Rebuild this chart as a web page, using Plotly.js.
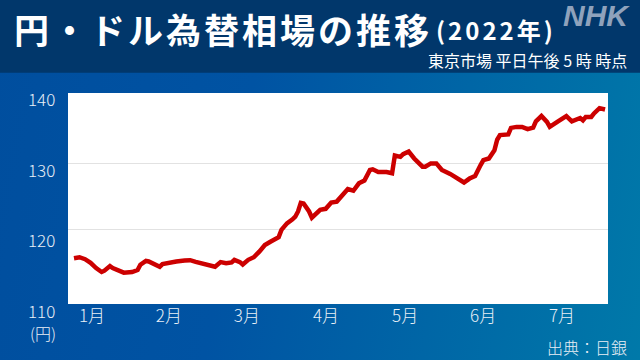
<!DOCTYPE html>
<html>
<head>
<meta charset="utf-8">
<script src="https://cdn.plot.ly/plotly-3.0.1.min.js"></script>
<style>
  html, body { margin: 0; padding: 0; }
  body { width: 640px; height: 360px; overflow: hidden;
         background: linear-gradient(100deg, #004e9e 0%, #0053a3 38%, #0079a9 100%); }
  #chart { width: 640px; height: 360px; }
</style>
</head>
<body>
<div id="chart"></div>
<script>
// ---- data ----
const dates = [
  '2022-01-04','2022-01-06','2022-01-08','2022-01-10','2022-01-12','2022-01-14','2022-01-15','2022-01-17',
  '2022-01-18','2022-01-20','2022-01-22','2022-01-25','2022-01-27','2022-01-28','2022-01-30','2022-01-31',
  '2022-02-02','2022-02-04','2022-02-05','2022-02-08','2022-02-10','2022-02-13','2022-02-15','2022-02-17',
  '2022-02-20','2022-02-23','2022-02-24','2022-02-26','2022-02-28',
  '2022-03-02','2022-03-03','2022-03-05','2022-03-06','2022-03-08','2022-03-10','2022-03-12','2022-03-14',
  '2022-03-16','2022-03-19','2022-03-20','2022-03-22','2022-03-24','2022-03-25','2022-03-26','2022-03-27',
  '2022-03-28','2022-03-30','2022-03-31',
  '2022-04-01','2022-04-03','2022-04-05','2022-04-07','2022-04-09','2022-04-10','2022-04-12','2022-04-13',
  '2022-04-15','2022-04-17','2022-04-19','2022-04-21','2022-04-22','2022-04-24','2022-04-27','2022-04-29',
  '2022-04-30',
  '2022-05-02','2022-05-03','2022-05-05','2022-05-07','2022-05-10','2022-05-11','2022-05-13','2022-05-15',
  '2022-05-17','2022-05-20','2022-05-22','2022-05-24','2022-05-25','2022-05-27','2022-05-29','2022-05-31',
  '2022-06-01','2022-06-03','2022-06-05','2022-06-06','2022-06-07','2022-06-10','2022-06-11','2022-06-13',
  '2022-06-15','2022-06-17','2022-06-19','2022-06-20','2022-06-22','2022-06-24','2022-06-25','2022-06-28',
  '2022-06-30',
  '2022-07-01','2022-07-03','2022-07-05','2022-07-06','2022-07-07','2022-07-08','2022-07-10','2022-07-11',
  '2022-07-13','2022-07-15'
];
const usdJpy = [
  115.6,115.75,115.45,114.9,114.1,113.5,113.7,114.4,
  114.1,113.8,113.4,113.5,113.8,114.6,115.2,115.1,
  114.6,114.3,114.7,115.0,115.1,115.25,115.3,115.05,
  114.7,114.3,114.3,115.0,114.85,
  114.95,115.35,115.0,114.65,115.35,115.75,116.6,117.6,
  118.1,118.8,119.9,120.9,121.5,121.9,122.7,124.0,
  123.9,122.7,121.75,
  122.2,122.95,123.1,124.05,124.2,124.7,125.55,126.1,
  125.85,126.97,127.4,129.0,129.1,128.7,128.7,128.5,
  131.2,
  131.0,131.4,131.8,130.75,129.5,129.5,130.0,130.0,
  129.0,128.4,127.9,127.5,127.1,127.7,128.1,129.75,
  130.5,130.75,132.0,133.6,134.3,134.4,135.4,135.55,
  135.55,135.2,135.45,136.4,137.2,136.3,135.55,136.4,
  137.06,
  137.2,136.4,136.7,136.9,136.55,137.06,137.06,137.6,
  138.4,138.2
];
const monthTickVals = ['2022-01-10 12:00','2022-02-07 07:00','2022-03-07 12:00','2022-04-05 02:00',
                       '2022-05-03 17:00','2022-05-31 22:00','2022-06-29 10:00'];
const monthTickText = ['1月','2月','3月','4月','5月','6月','7月'];
const yLabelVals = [140, 130, 120, 110];
const yLabelText = ['140', '130', '120', '110'];
const gridVals = [120, 130];

const titleMain = '円・ドル為替相場の推移';
const titleYear = '(2022年)';
const subtitle = '東京市場\u00a0平日午後\u00a05\u00a0時\u00a0時点';
const unitText = '(円)';
const sourceText = '出典：日銀';
const logoText = 'NHK';

// ---- layout ----
const W = 640, H = 360;
const M = { l: 68, r: 32, t: 93, b: 56 };
const plotW = W - M.l - M.r, plotH = H - M.t - M.b;
const px = x => (x - M.l) / plotW;            // pixel -> paper x
const py = y => (H - M.b - y) / plotH;        // pixel -> paper y

const jp = '"Noto Sans CJK JP", "Noto Sans", sans-serif';
const labelColor = '#e9eff6';

const annotations = [];
// y tick labels: drawn a little apart from the gridlines, as in the reference
yLabelVals.forEach((v, i) => {
  annotations.push({
    xref: 'paper', yref: 'y', x: px(57), y: v, xanchor: 'right', yanchor: 'middle',
    yshift: -(1 + 0.477 * (140 - v)),
    text: yLabelText[i], showarrow: false,
    font: { family: jp, size: 17, color: labelColor, weight: 300 }
  });
});
annotations.push({
  xref: 'paper', yref: 'paper', x: px(43), y: py(333), xanchor: 'center', yanchor: 'middle',
  text: unitText, showarrow: false, font: { family: jp, size: 16, color: labelColor, weight: 300 }
});
annotations.push({
  xref: 'paper', yref: 'paper', x: px(629), y: py(347), xanchor: 'right', yanchor: 'middle',
  text: sourceText, showarrow: false, font: { family: jp, size: 16, color: labelColor, weight: 300 }
});
annotations.push({
  xref: 'paper', yref: 'paper', x: px(629), y: py(60), xanchor: 'right', yanchor: 'middle',
  text: subtitle, showarrow: false, font: { family: jp, size: 16, color: '#ffffff' }
});
annotations.push({
  xref: 'paper', yref: 'paper', x: px(596), y: py(16), xanchor: 'center', yanchor: 'middle',
  text: '<b><i>' + logoText + '</i></b>', showarrow: false,
  font: { family: '"Liberation Sans", Arial, sans-serif', size: 30, color: '#8fa2bc' }
});
// year part of the title, slightly raised and smaller, right after the main title
annotations.push({
  xref: 'paper', yref: 'paper', x: px(434), y: py(30), xanchor: 'left', yanchor: 'middle',
  text: '<span style="letter-spacing:3px">' + titleYear + '</span>', showarrow: false,
  font: { family: jp, size: 24, color: '#ffffff', weight: 'bold' }
});

const layout = {
  width: W, height: H,
  margin: M,
  paper_bgcolor: 'rgba(0,0,0,0)',
  plot_bgcolor: '#ffffff',
  showlegend: false,
  title: {
    text: '<span style="letter-spacing:3px">' + titleMain + '</span>',
    xref: 'container', yref: 'container', x: 14 / W, y: 1 - 32 / H,
    xanchor: 'left', yanchor: 'middle',
    font: { family: jp, size: 35, color: '#ffffff', weight: 'bold' }
  },
  xaxis: {
    type: 'date',
    range: ['2022-01-01 20:00', '2022-07-16 01:30'],
    tickmode: 'array', tickvals: monthTickVals, ticktext: monthTickText,
    showgrid: false, zeroline: false, showline: false, ticks: '',
    tickfont: { family: jp, size: 17, color: labelColor, weight: 300 },
    fixedrange: true
  },
  yaxis: {
    range: [108.64, 140.7],
    tickmode: 'array', tickvals: gridVals,
    showticklabels: false, ticks: '',
    showgrid: true, gridcolor: '#e2e2e2', gridwidth: 1,
    zeroline: false, showline: false, fixedrange: true
  },
  shapes: [{
    type: 'rect', xref: 'paper', yref: 'paper',
    x0: px(-2), x1: px(W + 2), y0: py(72.7), y1: py(-2),
    fillcolor: '#01376b', line: { width: 0 }, layer: 'below'
  }],
  annotations: annotations
};

const traces = [{
  type: 'scatter', mode: 'lines',
  x: dates, y: usdJpy,
  line: { color: '#cc0000', width: 4.5 },
  hoverinfo: 'skip'
}];

Plotly.newPlot('chart', traces, layout, { staticPlot: true, displayModeBar: false });
</script>
</body>
</html>
